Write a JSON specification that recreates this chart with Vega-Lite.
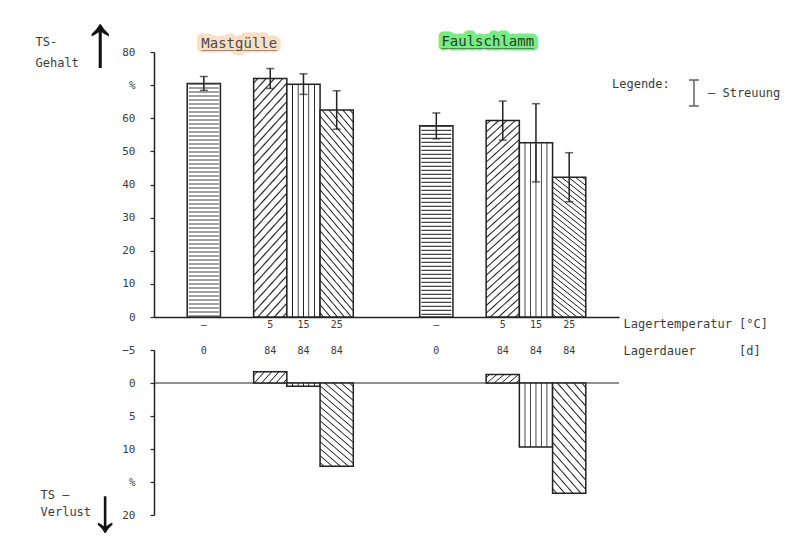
{
"$schema": "https://vega.github.io/schema/vega-lite/v6.json",
"width": 465,
"height": 463,
"autosize": {"type": "none"},
"padding": {"left": 154, "top": 52, "right": 168, "bottom": 33},
"background": "#ffffff",
"config": {
  "view": {"stroke": null},
  "font": "DejaVu Sans Mono",
  "axis": {"grid": false, "labelFont": "DejaVu Sans Mono", "labelFontSize": 11, "labelColor": "#3c3c3c", "titleFont": "DejaVu Sans Mono", "titleFontSize": 12, "titleFontWeight": "normal", "titleColor": "#3c3c3c", "domainColor": "#222222", "domainWidth": 1.5, "tickColor": "#222222", "tickWidth": 1.2}
},
"datasets": {
  "proben": [
    {"probe": "Mastgülle|–|0", "material": "Mastgülle", "temp": "–", "dauer": 0, "ts": 70.5, "sd": 2.1},
    {"probe": "Mastgülle|5|84", "material": "Mastgülle", "temp": "5", "dauer": 84, "ts": 72, "sd": 3, "verlust": -1.7},
    {"probe": "Mastgülle|15|84", "material": "Mastgülle", "temp": "15", "dauer": 84, "ts": 70.3, "sd": 3.1, "verlust": 0.5},
    {"probe": "Mastgülle|25|84", "material": "Mastgülle", "temp": "25", "dauer": 84, "ts": 62.5, "sd": 5.8, "verlust": 12.6},
    {"probe": "Faulschlamm|–|0", "material": "Faulschlamm", "temp": "–", "dauer": 0, "ts": 57.7, "sd": 3.9},
    {"probe": "Faulschlamm|5|84", "material": "Faulschlamm", "temp": "5", "dauer": 84, "ts": 59.3, "sd": 5.9, "verlust": -1.3},
    {"probe": "Faulschlamm|15|84", "material": "Faulschlamm", "temp": "15", "dauer": 84, "ts": 52.6, "sd": 11.8, "verlust": 9.7},
    {"probe": "Faulschlamm|25|84", "material": "Faulschlamm", "temp": "25", "dauer": 84, "ts": 42.2, "sd": 7.4, "verlust": 16.7}
  ]
},
"data": {"name": "proben"},
"resolve": {"scale": {"y": "independent"}, "axis": {"x": "independent", "y": "independent"}},
"layer": [
  {
    "encoding": {
      "x": {"field": "probe", "type": "nominal",
        "scale": {"type": "band", "domain": ["g0", "Mastgülle|–|0", "g2", "Mastgülle|5|84", "Mastgülle|15|84", "Mastgülle|25|84", "g6", "g7", "Faulschlamm|–|0", "g9", "Faulschlamm|5|84", "Faulschlamm|15|84", "Faulschlamm|25|84", "g13"], "paddingInner": 0, "paddingOuter": 0},
        "axis": {"orient": "bottom", "offset": -198, "domain": true, "ticks": false, "tickSize": 0, "labelAngle": 0, "labelPadding": 7, "labelBaseline": "middle", "labelFontSize": 10, "labelExpr": "indexof(datum.value, '|') > 0 ? split(datum.value, '|')[1] : ''", "title": "Lagertemperatur\u00a0[°C]", "titleX": 469, "titleY": 6, "titleAlign": "left", "titleBaseline": "middle", "titleAngle": 0}},
      "y": {"field": "ts", "type": "quantitative",
        "scale": {"domain": [0, 80], "range": [265, 0], "nice": false, "zero": false},
        "axis": {"orient": "left", "values": [0, 10, 20, 30, 40, 50, 60, 70, 80], "tickSize": 4, "labelPadding": 15, "labelExpr": "datum.value == 70 ? '%' : datum.label", "title": ["TS-", "Gehalt"], "titleAngle": 0, "titleX": -119, "titleY": -16, "titleAlign": "left", "titleBaseline": "top", "titleLineHeight": 21}}
    },
    "layer": [
      {"transform": [{"filter": "datum.temp === '–'"}], "mark": {"type": "bar", "fill": "#ffffff", "stroke": "#222222", "strokeWidth": 1.5}},
      {"transform": [{"filter": "datum.temp === '–'"}], "mark": {"type": "rule", "stroke": "#444444", "strokeWidth": 30, "strokeDash": [1.1, 2.9]}, "encoding": {"y2": {"datum": 0}}},
      {"transform": [{"filter": "datum.temp === '5'"}], "mark": {"type": "bar", "stroke": "#222222", "strokeWidth": 1.5,
        "fill": {"gradient": "linear", "x1": 0, "y1": 0, "x2": 0.173, "y2": 1.127, "stops": [
{"offset":0.0107,"color":"#fff"},{"offset":0.0167,"color":"#1a1a1a"},{"offset":0.0227,"color":"#fff"},
{"offset":0.044,"color":"#fff"},{"offset":0.05,"color":"#1a1a1a"},{"offset":0.056,"color":"#fff"},
{"offset":0.0773,"color":"#fff"},{"offset":0.0833,"color":"#1a1a1a"},{"offset":0.0893,"color":"#fff"},
{"offset":0.1107,"color":"#fff"},{"offset":0.1167,"color":"#1a1a1a"},{"offset":0.1227,"color":"#fff"},
{"offset":0.144,"color":"#fff"},{"offset":0.15,"color":"#1a1a1a"},{"offset":0.156,"color":"#fff"},
{"offset":0.1773,"color":"#fff"},{"offset":0.1833,"color":"#1a1a1a"},{"offset":0.1893,"color":"#fff"},
{"offset":0.2107,"color":"#fff"},{"offset":0.2167,"color":"#1a1a1a"},{"offset":0.2227,"color":"#fff"},
{"offset":0.244,"color":"#fff"},{"offset":0.25,"color":"#1a1a1a"},{"offset":0.256,"color":"#fff"},
{"offset":0.2773,"color":"#fff"},{"offset":0.2833,"color":"#1a1a1a"},{"offset":0.2893,"color":"#fff"},
{"offset":0.3107,"color":"#fff"},{"offset":0.3167,"color":"#1a1a1a"},{"offset":0.3227,"color":"#fff"},
{"offset":0.344,"color":"#fff"},{"offset":0.35,"color":"#1a1a1a"},{"offset":0.356,"color":"#fff"},
{"offset":0.3773,"color":"#fff"},{"offset":0.3833,"color":"#1a1a1a"},{"offset":0.3893,"color":"#fff"},
{"offset":0.4107,"color":"#fff"},{"offset":0.4167,"color":"#1a1a1a"},{"offset":0.4227,"color":"#fff"},
{"offset":0.444,"color":"#fff"},{"offset":0.45,"color":"#1a1a1a"},{"offset":0.456,"color":"#fff"},
{"offset":0.4773,"color":"#fff"},{"offset":0.4833,"color":"#1a1a1a"},{"offset":0.4893,"color":"#fff"},
{"offset":0.5107,"color":"#fff"},{"offset":0.5167,"color":"#1a1a1a"},{"offset":0.5227,"color":"#fff"},
{"offset":0.544,"color":"#fff"},{"offset":0.55,"color":"#1a1a1a"},{"offset":0.556,"color":"#fff"},
{"offset":0.5773,"color":"#fff"},{"offset":0.5833,"color":"#1a1a1a"},{"offset":0.5893,"color":"#fff"},
{"offset":0.6107,"color":"#fff"},{"offset":0.6167,"color":"#1a1a1a"},{"offset":0.6227,"color":"#fff"},
{"offset":0.644,"color":"#fff"},{"offset":0.65,"color":"#1a1a1a"},{"offset":0.656,"color":"#fff"},
{"offset":0.6773,"color":"#fff"},{"offset":0.6833,"color":"#1a1a1a"},{"offset":0.6893,"color":"#fff"},
{"offset":0.7107,"color":"#fff"},{"offset":0.7167,"color":"#1a1a1a"},{"offset":0.7227,"color":"#fff"},
{"offset":0.744,"color":"#fff"},{"offset":0.75,"color":"#1a1a1a"},{"offset":0.756,"color":"#fff"},
{"offset":0.7773,"color":"#fff"},{"offset":0.7833,"color":"#1a1a1a"},{"offset":0.7893,"color":"#fff"},
{"offset":0.8107,"color":"#fff"},{"offset":0.8167,"color":"#1a1a1a"},{"offset":0.8227,"color":"#fff"},
{"offset":0.844,"color":"#fff"},{"offset":0.85,"color":"#1a1a1a"},{"offset":0.856,"color":"#fff"},
{"offset":0.8773,"color":"#fff"},{"offset":0.8833,"color":"#1a1a1a"},{"offset":0.8893,"color":"#fff"},
{"offset":0.9107,"color":"#fff"},{"offset":0.9167,"color":"#1a1a1a"},{"offset":0.9227,"color":"#fff"},
{"offset":0.944,"color":"#fff"},{"offset":0.95,"color":"#1a1a1a"},{"offset":0.956,"color":"#fff"},
{"offset":0.9773,"color":"#fff"},{"offset":0.9833,"color":"#1a1a1a"},{"offset":0.9893,"color":"#fff"}
        ]}}},
      {"transform": [{"filter": "datum.temp === '15'"}], "mark": {"type": "bar", "stroke": "#222222", "strokeWidth": 1.5,
        "fill": {"gradient": "linear", "x1": 0, "y1": 0, "x2": 1, "y2": 0, "stops": [
{"offset":0.145,"color":"#fff"},{"offset":0.17,"color":"#1a1a1a"},{"offset":0.195,"color":"#fff"},
{"offset":0.315,"color":"#fff"},{"offset":0.34,"color":"#1a1a1a"},{"offset":0.365,"color":"#fff"},
{"offset":0.475,"color":"#fff"},{"offset":0.5,"color":"#1a1a1a"},{"offset":0.525,"color":"#fff"},
{"offset":0.635,"color":"#fff"},{"offset":0.66,"color":"#1a1a1a"},{"offset":0.685,"color":"#fff"},
{"offset":0.805,"color":"#fff"},{"offset":0.83,"color":"#1a1a1a"},{"offset":0.855,"color":"#fff"}
        ]}}},
      {"transform": [{"filter": "datum.temp === '25'"}], "mark": {"type": "bar", "stroke": "#222222", "strokeWidth": 1.5,
        "fill": {"gradient": "linear", "x1": 1, "y1": 0, "x2": 0.7835, "y2": 1.1478, "stops": [
{"offset":0.0107,"color":"#fff"},{"offset":0.0167,"color":"#1a1a1a"},{"offset":0.0227,"color":"#fff"},
{"offset":0.044,"color":"#fff"},{"offset":0.05,"color":"#1a1a1a"},{"offset":0.056,"color":"#fff"},
{"offset":0.0773,"color":"#fff"},{"offset":0.0833,"color":"#1a1a1a"},{"offset":0.0893,"color":"#fff"},
{"offset":0.1107,"color":"#fff"},{"offset":0.1167,"color":"#1a1a1a"},{"offset":0.1227,"color":"#fff"},
{"offset":0.144,"color":"#fff"},{"offset":0.15,"color":"#1a1a1a"},{"offset":0.156,"color":"#fff"},
{"offset":0.1773,"color":"#fff"},{"offset":0.1833,"color":"#1a1a1a"},{"offset":0.1893,"color":"#fff"},
{"offset":0.2107,"color":"#fff"},{"offset":0.2167,"color":"#1a1a1a"},{"offset":0.2227,"color":"#fff"},
{"offset":0.244,"color":"#fff"},{"offset":0.25,"color":"#1a1a1a"},{"offset":0.256,"color":"#fff"},
{"offset":0.2773,"color":"#fff"},{"offset":0.2833,"color":"#1a1a1a"},{"offset":0.2893,"color":"#fff"},
{"offset":0.3107,"color":"#fff"},{"offset":0.3167,"color":"#1a1a1a"},{"offset":0.3227,"color":"#fff"},
{"offset":0.344,"color":"#fff"},{"offset":0.35,"color":"#1a1a1a"},{"offset":0.356,"color":"#fff"},
{"offset":0.3773,"color":"#fff"},{"offset":0.3833,"color":"#1a1a1a"},{"offset":0.3893,"color":"#fff"},
{"offset":0.4107,"color":"#fff"},{"offset":0.4167,"color":"#1a1a1a"},{"offset":0.4227,"color":"#fff"},
{"offset":0.444,"color":"#fff"},{"offset":0.45,"color":"#1a1a1a"},{"offset":0.456,"color":"#fff"},
{"offset":0.4773,"color":"#fff"},{"offset":0.4833,"color":"#1a1a1a"},{"offset":0.4893,"color":"#fff"},
{"offset":0.5107,"color":"#fff"},{"offset":0.5167,"color":"#1a1a1a"},{"offset":0.5227,"color":"#fff"},
{"offset":0.544,"color":"#fff"},{"offset":0.55,"color":"#1a1a1a"},{"offset":0.556,"color":"#fff"},
{"offset":0.5773,"color":"#fff"},{"offset":0.5833,"color":"#1a1a1a"},{"offset":0.5893,"color":"#fff"},
{"offset":0.6107,"color":"#fff"},{"offset":0.6167,"color":"#1a1a1a"},{"offset":0.6227,"color":"#fff"},
{"offset":0.644,"color":"#fff"},{"offset":0.65,"color":"#1a1a1a"},{"offset":0.656,"color":"#fff"},
{"offset":0.6773,"color":"#fff"},{"offset":0.6833,"color":"#1a1a1a"},{"offset":0.6893,"color":"#fff"},
{"offset":0.7107,"color":"#fff"},{"offset":0.7167,"color":"#1a1a1a"},{"offset":0.7227,"color":"#fff"},
{"offset":0.744,"color":"#fff"},{"offset":0.75,"color":"#1a1a1a"},{"offset":0.756,"color":"#fff"},
{"offset":0.7773,"color":"#fff"},{"offset":0.7833,"color":"#1a1a1a"},{"offset":0.7893,"color":"#fff"},
{"offset":0.8107,"color":"#fff"},{"offset":0.8167,"color":"#1a1a1a"},{"offset":0.8227,"color":"#fff"},
{"offset":0.844,"color":"#fff"},{"offset":0.85,"color":"#1a1a1a"},{"offset":0.856,"color":"#fff"},
{"offset":0.8773,"color":"#fff"},{"offset":0.8833,"color":"#1a1a1a"},{"offset":0.8893,"color":"#fff"},
{"offset":0.9107,"color":"#fff"},{"offset":0.9167,"color":"#1a1a1a"},{"offset":0.9227,"color":"#fff"},
{"offset":0.944,"color":"#fff"},{"offset":0.95,"color":"#1a1a1a"},{"offset":0.956,"color":"#fff"},
{"offset":0.9773,"color":"#fff"},{"offset":0.9833,"color":"#1a1a1a"},{"offset":0.9893,"color":"#fff"}
        ]}}},
      {"mark": {"type": "errorbar", "ticks": true, "size": 8, "thickness": 1.5},
       "encoding": {"yError": {"field": "sd"},
         "color": {"datum": "Streuung", "scale": {"range": ["#222222"]},
           "legend": {"title": "Legende:", "orient": "none", "legendX": 458, "legendY": 27, "direction": "vertical", "titleOrient": "left", "titleAnchor": "start", "titlePadding": 10, "titleFont": "DejaVu Sans Mono", "titleFontSize": 12, "titleFontWeight": "normal", "titleColor": "#3c3c3c", "titleBaseline": "top", "symbolType": "M-0.38,-1H0.38M0,-1V1M-0.38,1H0.38", "symbolSize": 676, "symbolStrokeWidth": 1.5, "symbolStrokeColor": "#222222", "symbolFillColor": "transparent", "labelFont": "DejaVu Sans Mono", "labelFontSize": 12, "labelColor": "#3c3c3c", "labelOffset": 0, "labelExpr": "'– ' + datum.label"}}}},
      {"transform": [{"filter": "datum.probe === 'Mastgülle|5|84'"}], "mark": {"type": "text", "font": "DejaVu Sans Mono", "fontSize": 14, "fill": "#f9d6b8", "stroke": "#f9d6b8", "strokeWidth": 9, "strokeJoin": "round", "opacity": 0.8, "dx": -31, "dy": -8},
       "encoding": {"text": {"field": "material"}, "y": {"datum": 80}}},
      {"transform": [{"filter": "datum.probe === 'Mastgülle|5|84'"}], "mark": {"type": "text", "font": "DejaVu Sans Mono", "fontSize": 14, "fill": "#4a4a4a", "dx": -31, "dy": -8},
       "encoding": {"text": {"field": "material"}, "y": {"datum": 80}}},
      {"transform": [{"filter": "datum.probe === 'Mastgülle|5|84'"}], "mark": {"type": "text", "text": "_________", "font": "DejaVu Sans Mono", "fontSize": 14, "fill": "#4a4a4a", "dx": -31, "dy": -9},
       "encoding": {"y": {"datum": 80}}},
      {"transform": [{"filter": "datum.probe === 'Faulschlamm|5|84'"}], "mark": {"type": "text", "font": "DejaVu Sans Mono", "fontSize": 14, "fill": "#62e872", "stroke": "#62e872", "strokeWidth": 9, "strokeJoin": "round", "opacity": 0.85, "dx": -15, "dy": -10},
       "encoding": {"text": {"field": "material"}, "y": {"datum": 80}}},
      {"transform": [{"filter": "datum.probe === 'Faulschlamm|5|84'"}], "mark": {"type": "text", "font": "DejaVu Sans Mono", "fontSize": 14, "fill": "#264026", "dx": -15, "dy": -10},
       "encoding": {"text": {"field": "material"}, "y": {"datum": 80}}},
      {"transform": [{"filter": "datum.probe === 'Faulschlamm|5|84'"}], "mark": {"type": "text", "text": "___________", "font": "DejaVu Sans Mono", "fontSize": 14, "fill": "#264026", "dx": -15, "dy": -11},
       "encoding": {"y": {"datum": 80}}},
      {"transform": [{"filter": "datum.probe === 'Mastgülle|–|0'"}], "mark": {"type": "text", "text": "↑", "font": "Liberation Sans", "fontSize": 74, "fill": "#111111", "baseline": "middle", "dx": -103.6, "dy": -8},
       "encoding": {"y": {"datum": 80}}}
    ]
  },
  {
    "data": {"values": [{}]},
    "mark": {"type": "rule", "stroke": "#222222", "strokeWidth": 1.2},
    "encoding": {"y": {"datum": 0, "type": "quantitative", "scale": {"domain": [-5, 20], "range": [298, 463], "nice": false, "zero": false}, "axis": null}}
  },
  {
    "encoding": {
      "x": {"field": "probe", "type": "nominal",
        "scale": {"type": "band", "domain": ["g0", "Mastgülle|–|0", "g2", "Mastgülle|5|84", "Mastgülle|15|84", "Mastgülle|25|84", "g6", "g7", "Faulschlamm|–|0", "g9", "Faulschlamm|5|84", "Faulschlamm|15|84", "Faulschlamm|25|84", "g13"], "paddingInner": 0, "paddingOuter": 0},
        "axis": {"orient": "top", "offset": -298, "domain": false, "ticks": false, "tickSize": 0, "labelAngle": 0, "labelPadding": 0, "labelBaseline": "middle", "labelFontSize": 10, "labelExpr": "indexof(datum.value, '|') > 0 ? split(datum.value, '|')[2] : ''", "title": "Lagerdauer\u00a0\u00a0\u00a0\u00a0\u00a0\u00a0[d]", "titleX": 469, "titleY": 0, "titleAlign": "left", "titleBaseline": "middle", "titleAngle": 0}},
      "y": {"field": "verlust", "type": "quantitative",
        "scale": {"domain": [-5, 20], "range": [298, 463], "nice": false, "zero": false},
        "axis": {"orient": "left", "values": [-5, 0, 5, 10, 15, 20], "tickSize": 4, "labelPadding": 15, "labelExpr": "datum.value == 15 ? '%' : datum.label", "title": ["TS –", "Verlust"], "titleAngle": 0, "titleX": -114, "titleY": 437, "titleAlign": "left", "titleBaseline": "top", "titleLineHeight": 17}}
    },
    "layer": [
      {"transform": [{"filter": "datum.temp === '5'"}], "mark": {"type": "bar", "stroke": "#222222", "strokeWidth": 1.5,
        "fill": {"gradient": "linear", "x1": 0, "y1": 0, "x2": 1.1934, "y2": 0.3616, "stops": [
{"offset":0.0583,"color":"#fff"},{"offset":0.0833,"color":"#1a1a1a"},{"offset":0.1083,"color":"#fff"},
{"offset":0.225,"color":"#fff"},{"offset":0.25,"color":"#1a1a1a"},{"offset":0.275,"color":"#fff"},
{"offset":0.3917,"color":"#fff"},{"offset":0.4167,"color":"#1a1a1a"},{"offset":0.4417,"color":"#fff"},
{"offset":0.5583,"color":"#fff"},{"offset":0.5833,"color":"#1a1a1a"},{"offset":0.6083,"color":"#fff"},
{"offset":0.725,"color":"#fff"},{"offset":0.75,"color":"#1a1a1a"},{"offset":0.775,"color":"#fff"},
{"offset":0.8917,"color":"#fff"},{"offset":0.9167,"color":"#1a1a1a"},{"offset":0.9417,"color":"#fff"}
        ]}}},
      {"transform": [{"filter": "datum.temp === '15'"}], "mark": {"type": "bar", "stroke": "#222222", "strokeWidth": 1.5,
        "fill": {"gradient": "linear", "x1": 0, "y1": 0, "x2": 1, "y2": 0, "stops": [
{"offset":0.145,"color":"#fff"},{"offset":0.17,"color":"#1a1a1a"},{"offset":0.195,"color":"#fff"},
{"offset":0.315,"color":"#fff"},{"offset":0.34,"color":"#1a1a1a"},{"offset":0.365,"color":"#fff"},
{"offset":0.475,"color":"#fff"},{"offset":0.5,"color":"#1a1a1a"},{"offset":0.525,"color":"#fff"},
{"offset":0.635,"color":"#fff"},{"offset":0.66,"color":"#1a1a1a"},{"offset":0.685,"color":"#fff"},
{"offset":0.805,"color":"#fff"},{"offset":0.83,"color":"#1a1a1a"},{"offset":0.855,"color":"#fff"}
        ]}}},
      {"transform": [{"filter": "datum.temp === '25'"}], "mark": {"type": "bar", "stroke": "#222222", "strokeWidth": 1.5,
        "fill": {"gradient": "linear", "x1": 1, "y1": 0, "x2": 0.5866, "y2": 1.2018, "stops": [
{"offset":0.0213,"color":"#fff"},{"offset":0.0313,"color":"#1a1a1a"},{"offset":0.0413,"color":"#fff"},
{"offset":0.0838,"color":"#fff"},{"offset":0.0938,"color":"#1a1a1a"},{"offset":0.1038,"color":"#fff"},
{"offset":0.1463,"color":"#fff"},{"offset":0.1563,"color":"#1a1a1a"},{"offset":0.1663,"color":"#fff"},
{"offset":0.2088,"color":"#fff"},{"offset":0.2188,"color":"#1a1a1a"},{"offset":0.2288,"color":"#fff"},
{"offset":0.2713,"color":"#fff"},{"offset":0.2813,"color":"#1a1a1a"},{"offset":0.2913,"color":"#fff"},
{"offset":0.3338,"color":"#fff"},{"offset":0.3438,"color":"#1a1a1a"},{"offset":0.3538,"color":"#fff"},
{"offset":0.3963,"color":"#fff"},{"offset":0.4063,"color":"#1a1a1a"},{"offset":0.4163,"color":"#fff"},
{"offset":0.4588,"color":"#fff"},{"offset":0.4688,"color":"#1a1a1a"},{"offset":0.4788,"color":"#fff"},
{"offset":0.5213,"color":"#fff"},{"offset":0.5313,"color":"#1a1a1a"},{"offset":0.5413,"color":"#fff"},
{"offset":0.5838,"color":"#fff"},{"offset":0.5938,"color":"#1a1a1a"},{"offset":0.6038,"color":"#fff"},
{"offset":0.6463,"color":"#fff"},{"offset":0.6563,"color":"#1a1a1a"},{"offset":0.6663,"color":"#fff"},
{"offset":0.7088,"color":"#fff"},{"offset":0.7188,"color":"#1a1a1a"},{"offset":0.7288,"color":"#fff"},
{"offset":0.7713,"color":"#fff"},{"offset":0.7813,"color":"#1a1a1a"},{"offset":0.7913,"color":"#fff"},
{"offset":0.8338,"color":"#fff"},{"offset":0.8438,"color":"#1a1a1a"},{"offset":0.8538,"color":"#fff"},
{"offset":0.8963,"color":"#fff"},{"offset":0.9063,"color":"#1a1a1a"},{"offset":0.9163,"color":"#fff"},
{"offset":0.9588,"color":"#fff"},{"offset":0.9688,"color":"#1a1a1a"},{"offset":0.9788,"color":"#fff"}
        ]}}},
      {"transform": [{"filter": "datum.probe === 'Mastgülle|5|84'"}], "mark": {"type": "text", "text": "↓", "font": "Liberation Sans", "fontSize": 62, "fill": "#111111", "baseline": "middle", "dx": -165, "dy": -3},
       "encoding": {"y": {"datum": 20}}}
    ]
  }
]
}
